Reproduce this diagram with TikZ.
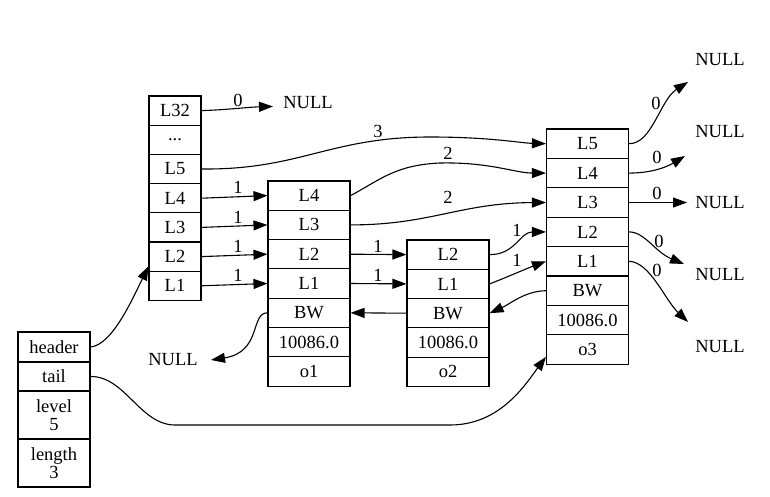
\documentclass[tikz,border=0pt]{standalone}
\usepackage{fontspec}
\setmainfont{Liberation Serif}
\usetikzlibrary{arrows.meta}
\begin{document}
\begin{tikzpicture}[x=1pt,y=-1pt, line width=1.1pt,
  every node/.style={font=\fontsize{18.5}{18}\selectfont},
  cell/.style={draw, rectangle, inner sep=0pt, line width=1.1pt},
  hcell/.style={cell, minimum width=52pt, minimum height=29.2pt},
  ocell/.style={cell, minimum width=82pt, minimum height=29.3pt},
  pcell/.style={cell, minimum width=82pt, minimum height=29.4pt},
  lcell/.style={cell, minimum width=72pt, align=center},
  arr/.style={-{Triangle[length=14pt,width=10pt]}},
  lbl/.style={inner sep=0pt},
  nul/.style={inner sep=0pt}
]
\useasboundingbox (0,0) rectangle (770,497);

% list struct
\node[lcell, minimum height=30pt] (hd) at (54,347) {header};
\node[lcell, minimum height=29pt] (tl) at (54,376.5) {tail};
\node[lcell, minimum height=48pt] (lv) at (54,415) {level\\5};
\node[lcell, minimum height=48pt] (ln) at (54,463) {length\\3};

% header column
\node[hcell] (h32) at (175,110.6) {L32};
\node[hcell] (hdt) at (175,139.8) {...};
\node[hcell] (h5) at (175,169.0) {L5};
\node[hcell] (h4) at (175,198.2) {L4};
\node[hcell] (h3) at (175,227.4) {L3};
\node[hcell] (h2) at (175,256.6) {L2};
\node[hcell] (h1) at (175,285.8) {L1};

% node o1
\node[ocell] (a4) at (309,195.6) {L4};
\node[ocell] (a3) at (309,224.9) {L3};
\node[ocell] (a2) at (309,254.2) {L2};
\node[ocell] (a1) at (309,283.5) {L1};
\node[ocell] (ab) at (309,312.8) {BW};
\node[ocell] (as) at (309,342.1) {10086.0};
\node[ocell] (ao) at (309,371.4) {o1};

% node o2
\node[ocell] (b2) at (448,254.6) {L2};
\node[ocell] (b1) at (448,283.9) {L1};
\node[ocell] (bb) at (448,313.2) {BW};
\node[ocell] (bs) at (448,342.5) {10086.0};
\node[ocell] (bo) at (448,371.8) {o2};

% node o3
\node[pcell] (c5) at (587.5,143.7) {L5};
\node[pcell] (c4) at (587.5,173.1) {L4};
\node[pcell] (c3) at (587.5,202.5) {L3};
\node[pcell] (c2) at (587.5,231.9) {L2};
\node[pcell] (c1) at (587.5,261.3) {L1};
\node[pcell] (cb) at (587.5,290.7) {BW};
\node[pcell] (cs) at (587.5,320.1) {10086.0};
\node[pcell] (co) at (587.5,349.5) {o3};

% NULL labels
\node[nul] (n0) at (308,103) {NULL};
\node[nul] (nl) at (173,360) {NULL};
\node[nul] (r5) at (720,60) {NULL};
\node[nul] (r4) at (720,132) {NULL};
\node[nul] (r3) at (720,203) {NULL};
\node[nul] (r2) at (720,275) {NULL};
\node[nul] (r1) at (720,347) {NULL};

\coordinate (t0) at (273,106.5);
\coordinate (tl0) at (211,360);
\coordinate (t5) at (688,82);
\coordinate (t4) at (685,156);
\coordinate (t3) at (687,202.5);
\coordinate (t2) at (684,264);
\coordinate (t1) at (688,322);

% header / tail pointers
\draw[arr] (hd.east) .. controls (112,345) and (132,300) .. (h2.200);
\draw[arr] (tl.east) .. controls (125,376) and (140,425) .. (175,425)
  -- (450,425) .. controls (500,425) and (525,385) .. (co.190);

% header column edges
\draw[arr] (h32.east) .. controls (225,110) and (250,107) .. (t0)
  node[lbl, at={(238,100)}] {0};
\draw[arr] (h5.east) .. controls (300,170) and (330,137) .. (430,137)
  .. controls (490,137) and (520,143) .. (c5.west)
  node[lbl, at={(378,131)}] {3};
\draw[arr] (h4.east) -- (a4.west) node[lbl, at={(238,187)}] {1};
\draw[arr] (h3.east) -- (a3.west) node[lbl, at={(238,217)}] {1};
\draw[arr] (h2.east) -- (a2.west) node[lbl, at={(238,246)}] {1};
\draw[arr] (h1.east) -- (a1.west) node[lbl, at={(238,275)}] {1};

% o1 edges
\draw[arr] (a4.east) .. controls (380,180) and (395,165) .. (440,163)
  .. controls (490,162) and (515,173) .. (c4.west)
  node[lbl, at={(448,153)}] {2};
\draw[arr] (a3.east) .. controls (430,225) and (460,203) .. (c3.west)
  node[lbl, at={(448,197)}] {2};
\draw[arr] (a2.east) -- (b2.west) node[lbl, at={(378,246)}] {1};
\draw[arr] (a1.east) -- (b1.west) node[lbl, at={(378,275)}] {1};
\draw[arr] (ab.west) .. controls (250,313) and (262,352) .. (tl0);

% o2 edges
\draw[arr] (b2.east) .. controls (515,255) and (520,232) .. (c2.west)
  node[lbl, at={(517,230)}] {1};
\draw[arr] (b1.east) .. controls (505,278) and (528,268) .. (c1.west)
  node[lbl, at={(517,260)}] {1};
\draw[arr] (bb.west) -- (ab.east);

% o3 edges
\draw[arr] (cb.west) .. controls (525,291) and (510,304) .. (bb.east);
\draw[arr] (c5.east) .. controls (652,144) and (660,100) .. (t5)
  node[lbl, at={(656,103)}] {0};
\draw[arr] (c4.east) .. controls (650,173) and (665,168) .. (t4)
  node[lbl, at={(657,157)}] {0};
\draw[arr] (c3.east) -- (t3) node[lbl, at={(657,193)}] {0};
\draw[arr] (c2.east) .. controls (645,232) and (655,252) .. (t2)
  node[lbl, at={(659,241)}] {0};
\draw[arr] (c1.east) .. controls (650,262) and (665,300) .. (t1)
  node[lbl, at={(657,270)}] {0};
\end{tikzpicture}
\end{document}
